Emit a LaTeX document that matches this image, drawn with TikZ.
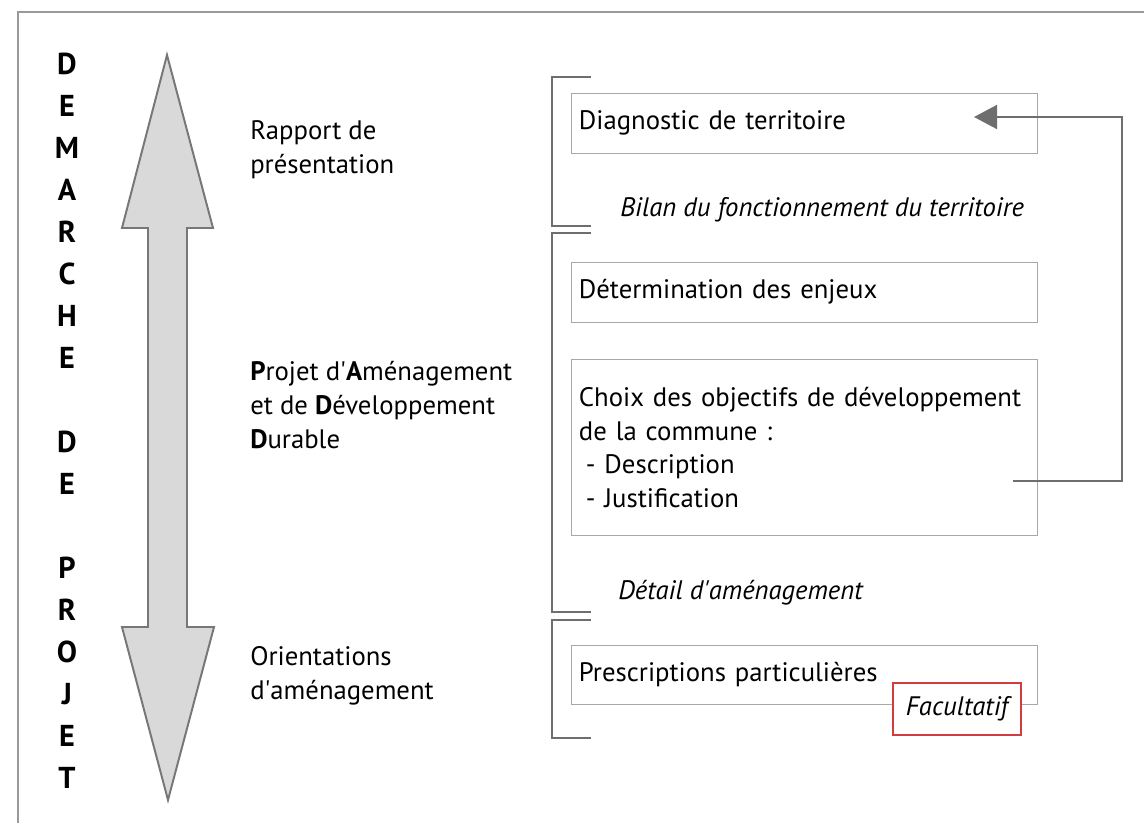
\documentclass[tikz,border=0pt]{standalone}
\usepackage{fontspec}
\setmainfont{PT Sans}
\usetikzlibrary{arrows.meta}

\definecolor{cadre}{HTML}{9A9A9A}
\definecolor{crochet}{HTML}{6E6E6E}
\definecolor{trait}{HTML}{A8A8A8}
\definecolor{remplissage}{HTML}{D9D9D9}
\definecolor{contour}{HTML}{777777}
\definecolor{rouge}{HTML}{D23C3C}
\newcommand\apo{\textquotesingle}

\tikzset{
	texte/.style={inner sep=0pt, align=left, anchor=west, font=\fontsize{19}{24}\selectfont},
	italique/.style={texte, font=\fontsize{19}{24}\selectfont\itshape},
	lettre/.style={inner sep=0pt, font=\fontsize{21.5}{24}\selectfont\bfseries},
	etape/.style={draw=trait, line width=0.7pt, inner xsep=0.175cm, inner ysep=0pt, text width=11.275cm, minimum height=1.5cm, align=left, font=\fontsize{19}{24}\selectfont},
	bord/.style={draw=crochet, line width=1.5pt},
	retour/.style={draw=crochet, line width=1.2pt, -{Triangle[length=0.575cm, width=0.6cm]}},
}

\begin{document}
\begin{tikzpicture}[x=0.025cm, y=-0.025cm]
	\useasboundingbox (0,0) rectangle (1144,823);
	% cadre
	\draw[cadre, line width=1.4pt] (1144,12) -- (18,12) -- (18,823);
	% double fleche
	\draw[contour, fill=remplissage, line width=1.4pt] (167,55) -- (213,228) -- (187,228) -- (187,627) -- (214,627) -- (168,800) -- (122,627) -- (148,627) -- (148,228) -- (122,228) -- cycle;
	\foreach \lettre/\k in {D/1,E/2,M/3,A/4,R/5,C/6,H/7,E/8,D/10,E/11,P/13,R/14,O/15,J/16,E/17,T/18}
		\node[lettre] (lettre\k) at (67,22+42*\k) {\lettre};
	% textes de gauche
	\node[texte] (rapport) at (250,150) {Rapport de\\présentation};
	\node[texte] (padd) at (250,405) {\textbf{P}rojet d\apo\textbf{A}ménagement\\et de \textbf{D}éveloppement\\\textbf{D}urable};
	\node[texte] (orient) at (250,676) {Orientations\\d\apo aménagement};
	% crochets
	\foreach \ya/\yb in {77/226,233/612,620/738}
		\draw[bord] (591,\ya) -| (552,\yb) -- (591,\yb);
	% etapes
	\node[etape] (diag) at (804.5,123) {Diagnostic de territoire};
	\node[italique] (bilan) at (620,210) {Bilan du fonctionnement du territoire};
	\node[etape] (enjeux) at (804.5,292) {Détermination des enjeux};
	\node[etape, minimum height=4.375cm] (choix) at (804.5,447.5) {Choix des objectifs de développement\\de la commune :\\\hspace{0.175cm}- Description\\\hspace{0.175cm}- Justification};
	\node[italique] (detail) at (618,593) {Détail d\apo aménagement};
	\node[etape, minimum height=1.475cm] (prescr) at (804.5,674.5) {Prescriptions particulières};
	\node[draw=rouge, line width=1.2pt, fill=white, inner sep=0pt, minimum width=3.2cm, minimum height=1.3cm, font=\fontsize{19}{24}\selectfont\itshape] (facult) at (957,709) {Facultatif};
	% boucle de retour
	\coordinate (depart) at (1013,481);
	\coordinate (cible) at (974,117);
	\draw[retour] (depart) -| (1122,117) -- (cible);
\end{tikzpicture}
\end{document}
